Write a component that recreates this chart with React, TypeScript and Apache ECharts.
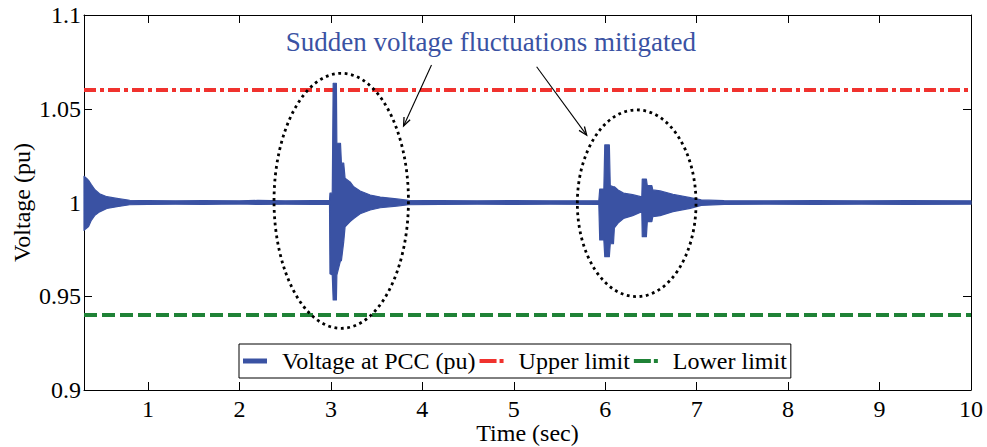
import React, { useEffect, useRef } from "react";
import * as echarts from "echarts";

// Time stamps (s) of the PCC voltage envelope samples
const times = [
  0.3, 0.33, 0.35, 0.38, 0.42, 0.47, 0.55, 0.66, 0.8, 1.0, 1.3, 1.6, 2.0, 2.2, 2.5, 2.8,
  2.985, 2.99, 3.015, 3.025, 3.06, 3.065, 3.105, 3.115, 3.14, 3.155, 3.21, 3.25, 3.32, 3.43,
  3.54, 3.72, 3.85, 4.2, 4.6, 5.0, 5.4, 5.93, 5.94, 5.985, 5.995, 6.045, 6.055, 6.09, 6.1,
  6.14, 6.2, 6.3, 6.4, 6.405, 6.45, 6.46, 6.51, 6.52, 6.6, 6.74, 6.93, 7.05, 7.3, 7.8, 8.3,
  8.8, 9.3, 10.0,
];
// Upper envelope of the oscillating PCC voltage (pu)
const upperEnv = [
  1.014, 1.0128, 1.0118, 1.0095, 1.0068, 1.0047, 1.0031, 1.0022, 1.0012, 1.001, 1.0009,
  1.001, 1.0009, 1.0011, 1.0009, 1.001, 1.001, 1.005, 1.005, 1.0636, 1.0636, 1.0316,
  1.0316, 1.021, 1.021, 1.0129, 1.011, 1.0084, 1.0061, 1.004, 1.0029, 1.0019, 1.0012, 1.001,
  1.0009, 1.001, 1.0009, 1.001, 1.0072, 1.0072, 1.0307, 1.0307, 1.009, 1.0084, 1.0084,
  1.0067, 1.005, 1.0042, 1.003, 1.0125, 1.0125, 1.009, 1.009, 1.0067, 1.0062, 1.0044, 1.0026,
  1.0014, 1.001, 1.0009, 1.001, 1.0009, 1.001, 1.0009,
];
// Lower envelope of the oscillating PCC voltage (pu)
const lowerEnv = [
  0.9852, 0.9864, 0.9872, 0.9905, 0.9932, 0.995, 0.9968, 0.9978, 0.9988, 0.999, 0.9991,
  0.999, 0.9992, 0.999, 0.9991, 0.999, 0.999, 0.962, 0.9613, 0.948, 0.948, 0.9613, 0.969,
  0.969, 0.979, 0.987, 0.9898, 0.9915, 0.994, 0.996, 0.9972, 0.9981, 0.9988, 0.999, 0.9991,
  0.999, 0.9991, 0.999, 0.98, 0.98, 0.9711, 0.9711, 0.978, 0.978, 0.9864, 0.989, 0.9915,
  0.993, 0.9951, 0.9818, 0.9818, 0.9898, 0.9898, 0.9924, 0.993, 0.9951, 0.9969, 0.9985,
  0.999, 0.9991, 0.999, 0.9991, 0.999, 0.9991,
];

const upperLimit = 1.06;
const lowerLimit = 0.94;
const xRange = [0.3, 10];
const xTicks = [1, 2, 3, 4, 5, 6, 7, 8, 9, 10];
const yTicks = [0.9, 0.95, 1, 1.05, 1.1];

const BLUE = "#3a52a3";
const RED = "#f0322e";
const GREEN = "#1f8236";
const FONT = "Liberation Serif";

// Dotted ellipses around the two disturbances (centre and semi-axes in data units)
const ellipses = [
  { t: 3.113, v: 1.0009, rt: 0.735, rv: 0.068 },
  { t: 6.344, v: 0.9996, rt: 0.649, rv: 0.0498 },
];
// Arrows from the annotation text to the ellipses, in data units
const arrows = [
  { from: [4.1, 1.0733], to: [3.795, 1.0408] },
  { from: [5.25, 1.0724], to: [5.797, 1.0359] },
];
// Anchor of the annotation text, in data units
const notePos = [4.75, 1.0857];

export default function App() {
  const ref = useRef<HTMLDivElement>(null);

  useEffect(() => {
    const chart = echarts.init(ref.current!, null, { renderer: "svg" });

    const axisCommon = {
      axisLine: { show: true, lineStyle: { color: "#000", width: 1 } },
      splitLine: { show: false },
    };

    chart.setOption({
      animation: false,
      backgroundColor: "#fff",
      textStyle: { fontFamily: FONT },
      grid: { left: 84, right: 16, top: 15, bottom: 57, outerBoundsMode: "none", containLabel: false },
      legend: {
        left: 239,
        top: 344,
        orient: "horizontal",
        selectedMode: false,
        data: [
          { name: "Voltage at PCC (pu)", icon: "path://M0,0H24V5H0Z", itemStyle: { color: BLUE } },
          { name: "Upper limit", icon: "path://M0,0H17V4H0ZM20,0H24V4H20Z", itemStyle: { color: RED } },
          { name: "Lower limit", icon: "path://M0,0H17V4H0ZM20,0H24V4H20Z", itemStyle: { color: GREEN } },
        ],
        itemWidth: 24,
        itemHeight: 14,
        itemGap: 4,
        padding: [5, 4, 5, 4],
        borderColor: "#000",
        borderWidth: 1,
        textStyle: {
          fontFamily: FONT,
          fontSize: 24,
          color: "#000",
          padding: [0, 0, 0, 10],
        },
      },
      xAxis: [
        {
          type: "value",
          min: xRange[0],
          max: xRange[1],
          ...axisCommon,
          name: "Time (sec)",
          nameLocation: "middle",
          nameGap: 31,
          nameMoveOverlap: false,
          nameTextStyle: { fontFamily: FONT, fontSize: 24, color: "#000" },
          axisTick: { show: true, inside: true, length: 8, customValues: xTicks, lineStyle: { color: "#000" } },
          axisLabel: { customValues: xTicks, fontFamily: FONT, fontSize: 24, color: "#000", margin: 7 },
        },
        {
          type: "value",
          position: "top",
          min: xRange[0],
          max: xRange[1],
          ...axisCommon,
          axisTick: { show: true, inside: true, length: 8, customValues: xTicks, lineStyle: { color: "#000" } },
          axisLabel: { show: false },
        },
      ],
      yAxis: [
        {
          type: "value",
          min: yTicks[0],
          max: yTicks[yTicks.length - 1],
          interval: 0.05,
          ...axisCommon,
          name: "Voltage (pu)",
          nameLocation: "middle",
          nameGap: 50,
          nameMoveOverlap: false,
          nameTextStyle: { fontFamily: FONT, fontSize: 24, color: "#000" },
          axisTick: { show: true, inside: true, length: 8, lineStyle: { color: "#000" } },
          axisLabel: { fontFamily: FONT, fontSize: 24, color: "#000", margin: 3 },
        },
        {
          type: "value",
          position: "right",
          min: yTicks[0],
          max: yTicks[yTicks.length - 1],
          interval: 0.05,
          ...axisCommon,
          axisTick: { show: true, inside: true, length: 8, lineStyle: { color: "#000" } },
          axisLabel: { show: false },
        },
      ],
      series: [
        {
          // Filled band between the upper and lower envelope of the fast oscillation
          name: "Voltage at PCC (pu)",
          type: "custom",
          data: times.map((t, i) => [t, upperEnv[i], lowerEnv[i]]),
          encode: { x: 0, y: [1, 2] },
          itemStyle: { color: BLUE },
          z: 3,
          renderItem: (params: any, api: any) => {
            if (params.dataIndex !== 0) return null;
            const top = times.map((t, i) => api.coord([t, upperEnv[i]]));
            const bottom = times.map((t, i) => api.coord([t, lowerEnv[i]])).reverse();
            return {
              type: "polygon",
              shape: { points: top.concat(bottom) },
              style: { fill: BLUE, stroke: BLUE, lineWidth: 1.2, lineJoin: "round" },
            };
          },
        },
        {
          name: "Upper limit",
          type: "line",
          symbol: "none",
          data: [
            [xRange[0], upperLimit],
            [xRange[1], upperLimit],
          ],
          lineStyle: { color: RED, width: 4, type: [12, 4, 4, 4] },
          itemStyle: { color: RED },
          z: 2,
        },
        {
          name: "Lower limit",
          type: "line",
          symbol: "none",
          data: [
            [xRange[0], lowerLimit],
            [xRange[1], lowerLimit],
          ],
          lineStyle: { color: GREEN, width: 4, type: [13, 5] },
          itemStyle: { color: GREEN },
          z: 2,
        },
      ],
    });

    // Annotations placed through the axes' own scales
    const px = (t: number, v: number) => chart.convertToPixel({ gridIndex: 0 }, [t, v]) as number[];
    const graphics: any[] = [];
    ellipses.forEach((e) => {
      const c = px(e.t, e.v);
      const r = px(e.t + e.rt, e.v + e.rv);
      graphics.push({
        type: "ellipse",
        shape: { cx: c[0], cy: c[1], rx: Math.abs(r[0] - c[0]), ry: Math.abs(c[1] - r[1]) },
        style: { fill: "none", stroke: "#000", lineWidth: 2.8, lineDash: [2.8, 3.6] },
        z: 10,
      });
    });
    arrows.forEach((a) => {
      const p0 = px(a.from[0], a.from[1]);
      const p1 = px(a.to[0], a.to[1]);
      const ang = Math.atan2(p1[1] - p0[1], p1[0] - p0[0]);
      const len = 9;
      const spread = 0.38;
      const h1 = [p1[0] - len * Math.cos(ang - spread), p1[1] - len * Math.sin(ang - spread)];
      const h2 = [p1[0] - len * Math.cos(ang + spread), p1[1] - len * Math.sin(ang + spread)];
      graphics.push({
        type: "line",
        shape: { x1: p0[0], y1: p0[1], x2: p1[0], y2: p1[1] },
        style: { stroke: "#000", lineWidth: 1.1 },
        z: 10,
      });
      graphics.push({
        type: "polyline",
        shape: { points: [h1, p1, h2] },
        style: { fill: "none", stroke: "#000", lineWidth: 1.3 },
        z: 10,
      });
    });
    const tp = px(notePos[0], notePos[1]);
    graphics.push({
      type: "text",
      x: tp[0],
      y: tp[1],
      style: {
        text: "Sudden voltage fluctuations mitigated",
        fill: BLUE,
        fontFamily: FONT,
        fontSize: 27,
        align: "center",
        verticalAlign: "middle",
      },
      z: 10,
    });
    chart.setOption({ graphic: graphics });

    return () => chart.dispose();
  }, []);

  return (
    <div
      ref={ref}
      style={{ position: "fixed", left: 0, top: 0, width: 987, height: 447 }}
    />
  );
}
